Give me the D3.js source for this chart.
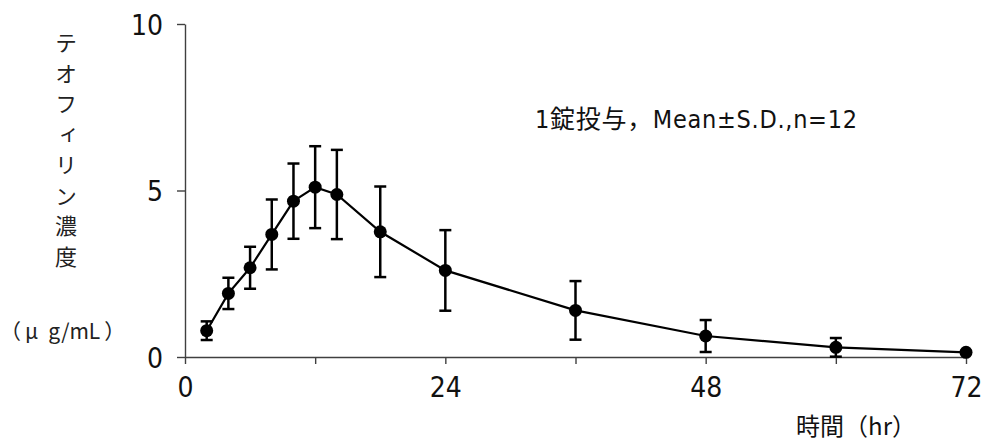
<!DOCTYPE html>
<html><head><meta charset="utf-8">
<script src="https://cdn.jsdelivr.net/npm/d3@7/dist/d3.min.js"></script>
<style>body{margin:0;background:#fff}svg{display:block}</style>
</head><body>
<svg id="c" width="987" height="441"></svg>
<script>
const times = [2, 4, 6, 8, 10, 12, 14, 18, 24, 36, 48, 60, 72];
const means = [0.79, 1.91, 2.68, 3.68, 4.68, 5.10, 4.88, 3.76, 2.60, 1.40, 0.63, 0.29, 0.14];
const sds   = [0.28, 0.47, 0.63, 1.05, 1.13, 1.23, 1.34, 1.36, 1.21, 0.88, 0.48, 0.28, 0.04];
const xTicks = [0, 12, 24, 36, 48, 60, 72];
const xTickLabels = ["0", "", "24", "", "48", "", "72"];
const yTicks = [0, 5, 10];
const yLabel = "テオフィリン濃度";
const yUnitParts = ["（", "μ", "g/mL", "）"];
const xTitle = "時間（hr）";
const note = "1錠投与，Mean±S.D.,n=12";

const svg = d3.select("#c");
const jp = "'Noto Sans CJK JP', sans-serif";
const narrow = "'DejaVu Sans Condensed', 'Noto Sans CJK JP', sans-serif";
const x = d3.scaleLinear().domain([0, 72]).range([185, 966]);
const y = d3.scaleLinear().domain([0, 10]).range([357, 24]);
const axisColor = "#404040";

// y axis
const ya = svg.append("g").attr("transform", "translate(185,0)")
  .call(d3.axisLeft(y).tickValues(yTicks).tickSize(8).tickSizeOuter(0));
ya.select(".domain").attr("stroke", axisColor).attr("stroke-width", 1.4);
ya.selectAll(".tick line").attr("stroke", axisColor).attr("stroke-width", 1.4);
ya.selectAll(".tick text").attr("font-family", narrow).attr("font-size", 28).attr("fill", "#111")
  .attr("x", -22).attr("dy", 10.2);

// x axis
const xa = svg.append("g").attr("transform", "translate(0,357)")
  .call(d3.axisBottom(x).tickValues(xTicks).tickFormat((d, i) => xTickLabels[i]).tickSize(7).tickSizeOuter(0));
xa.select(".domain").attr("stroke", axisColor).attr("stroke-width", 1.4);
xa.selectAll(".tick line").attr("stroke", axisColor).attr("stroke-width", 1.4);
xa.selectAll(".tick text").attr("font-family", narrow).attr("font-size", 28).attr("fill", "#111")
  .attr("y", 40).attr("dy", 0);

// error bars
const eb = svg.append("g").attr("stroke", "#000").attr("stroke-width", 2.5).attr("fill", "none");
times.forEach((t, i) => {
  const cx = x(t), top = y(means[i] + sds[i]), bot = y(Math.max(0, means[i] - sds[i]));
  eb.append("line").attr("x1", cx).attr("x2", cx).attr("y1", top).attr("y2", bot);
  eb.append("line").attr("x1", cx - 6).attr("x2", cx + 6).attr("y1", top).attr("y2", top);
  eb.append("line").attr("x1", cx - 6).attr("x2", cx + 6).attr("y1", bot).attr("y2", bot);
});

// line
const line = d3.line().x((d, i) => x(times[i])).y(d => y(d));
svg.append("path").datum(means).attr("d", line).attr("fill", "none")
  .attr("stroke", "#000").attr("stroke-width", 2.2);

// markers
svg.append("g").selectAll("circle").data(means).join("circle")
  .attr("cx", (d, i) => x(times[i])).attr("cy", d => y(d)).attr("r", 6.5).attr("fill", "#000");

// y label vertical
svg.append("text").attr("x", 66).attr("y", 32)
  .style("writing-mode", "vertical-rl").style("letter-spacing", "8.5px")
  .attr("font-family", jp).attr("font-size", 22).attr("fill", "#222").text(yLabel);
const yu = svg.append("text").attr("x", 0).attr("y", 339)
  .attr("font-family", jp).attr("font-size", 21).attr("fill", "#222");
const unitDx = [0, 4, 10, 4];
yUnitParts.forEach((p, i) => yu.append("tspan").attr("dx", unitDx[i]).text(p));

// x title
svg.append("text").attr("x", 796).attr("y", 435)
  .attr("font-family", jp).attr("font-size", 24).attr("fill", "#111")
  .attr("textLength", 120).attr("lengthAdjust", "spacing").text(xTitle);

// note
svg.append("text").attr("x", 535).attr("y", 128)
  .attr("font-family", narrow).attr("font-size", 25).attr("fill", "#111")
  .attr("textLength", 322).attr("lengthAdjust", "spacing").text(note);
</script>
</body></html>
